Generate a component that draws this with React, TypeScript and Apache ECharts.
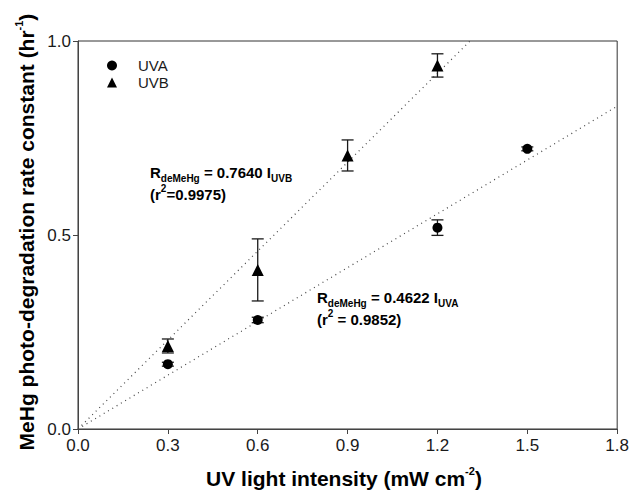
import React, { useEffect, useRef } from "react";
import * as echarts from "echarts";

// ---- data ----
const uvaX = [0.3, 0.6, 1.2, 1.5];
const uvaY = [0.167, 0.281, 0.519, 0.722];
const uvaErr = [0.005, 0.007, 0.02, 0.005];

const uvbX = [0.3, 0.6, 0.9, 1.2];
const uvbY = [0.214, 0.41, 0.705, 0.937];
const uvbErr = [0.018, 0.08, 0.04, 0.03];

const uvaSlope = 0.4622;
const uvbSlope = 0.764;

const xTicks = [0, 0.3, 0.6, 0.9, 1.2, 1.5, 1.8];
const yTicks = [0, 0.5, 1.0];

const FONT = 'Arial, "Liberation Sans", Helvetica, sans-serif';
const X_MAX = 1.8;
const Y_MAX = 1.0;

function errData(xs: number[], ys: number[], es: number[]) {
  return xs.map((x, i) => [x, ys[i] - es[i], ys[i] + es[i]]);
}

function fitLine(slope: number) {
  const xEnd = Math.min(X_MAX, Y_MAX / slope);
  return [
    [0, 0],
    [xEnd, slope * xEnd],
  ];
}

const errRender = (params: any, api: any) => {
  const x = api.value(0);
  const lo = api.coord([x, api.value(1)]);
  const hi = api.coord([x, api.value(2)]);
  const w = 6;
  const style = { stroke: "#1a1a1a", lineWidth: 1.3 };
  return {
    type: "group",
    children: [
      { type: "line", shape: { x1: lo[0], y1: lo[1], x2: hi[0], y2: hi[1] }, style },
      { type: "line", shape: { x1: lo[0] - w, y1: lo[1], x2: lo[0] + w, y2: lo[1] }, style },
      { type: "line", shape: { x1: hi[0] - w, y1: hi[1], x2: hi[0] + w, y2: hi[1] }, style },
    ],
  };
};

const annRich = {
  b: { fontSize: 15, fontWeight: "bold", fontFamily: FONT, color: "#1a1a1a", lineHeight: 22, verticalAlign: "middle" },
  s: { fontSize: 10, fontWeight: "bold", fontFamily: FONT, color: "#1a1a1a", lineHeight: 10, verticalAlign: "bottom" },
  p: { fontSize: 10, fontWeight: "bold", fontFamily: FONT, color: "#1a1a1a", lineHeight: 10, verticalAlign: "top" },
};

const titleRich = {
  t: { fontSize: 21, fontWeight: "bold", fontFamily: FONT, color: "#1a1a1a", lineHeight: 26, verticalAlign: "middle" },
  p: { fontSize: 11, fontWeight: "bold", fontFamily: FONT, color: "#1a1a1a", lineHeight: 12, verticalAlign: "top" },
};

export default function App() {
  const ref = useRef<HTMLDivElement>(null);
  useEffect(() => {
    if (!ref.current) return;
    const chart = echarts.init(ref.current, null, { renderer: "svg" });
    chart.setOption({
      animation: false,
      backgroundColor: "#fff",
      grid: {
        left: 78,
        right: 13,
        top: 41,
        bottom: 63,
        show: true,
        borderColor: "#333",
        borderWidth: 1,
      },
      legend: {
        orient: "vertical",
        left: 107,
        top: 58,
        padding: 0,
        itemWidth: 10,
        itemHeight: 10,
        itemGap: 2,
        data: ["UVA", "UVB"],
        textStyle: { fontFamily: FONT, fontSize: 15, color: "#1a1a1a", padding: [0, 0, 0, 16] },
      },
      xAxis: {
        type: "value",
        min: 0,
        max: X_MAX,
        interval: 0.3,
        axisLine: { show: true, lineStyle: { color: "#444", width: 1 } },
        axisTick: { show: true, inside: false, length: 5, lineStyle: { color: "#444" } },
        splitLine: { show: false },
        axisLabel: {
          fontFamily: FONT,
          fontSize: 17,
          color: "#1a1a1a",
          margin: 8,
          formatter: (v: number) => (xTicks.some((t) => Math.abs(t - v) < 1e-9) ? v.toFixed(1) : ""),
        },
      },
      yAxis: {
        type: "value",
        min: 0,
        max: Y_MAX,
        interval: 0.5,
        axisLine: { show: true, lineStyle: { color: "#444", width: 1 } },
        axisTick: { show: true, inside: false, length: 5, lineStyle: { color: "#444" } },
        splitLine: { show: false },
        axisLabel: {
          fontFamily: FONT,
          fontSize: 17,
          color: "#1a1a1a",
          margin: 7,
          formatter: (v: number) => (yTicks.some((t) => Math.abs(t - v) < 1e-9) ? v.toFixed(1) : ""),
        },
      },
      series: [
        {
          name: "UVA fit",
          type: "line",
          data: fitLine(uvaSlope),
          symbol: "none",
          lineStyle: { color: "#444", width: 1.2, type: [1, 4] },
          z: 1,
          silent: true,
        },
        {
          name: "UVB fit",
          type: "line",
          data: fitLine(uvbSlope),
          symbol: "none",
          lineStyle: { color: "#444", width: 1.2, type: [1, 4] },
          z: 1,
          silent: true,
        },
        {
          name: "UVA err",
          type: "custom",
          renderItem: errRender,
          data: errData(uvaX, uvaY, uvaErr),
          encode: { x: 0, y: [1, 2] },
          z: 2,
        },
        {
          name: "UVB err",
          type: "custom",
          renderItem: errRender,
          data: errData(uvbX, uvbY, uvbErr),
          encode: { x: 0, y: [1, 2] },
          z: 2,
        },
        {
          name: "UVA",
          type: "scatter",
          symbol: "circle",
          symbolSize: 10,
          itemStyle: { color: "#000", opacity: 1 },
          data: uvaX.map((x, i) => [x, uvaY[i]]),
          z: 3,
        },
        {
          name: "UVB",
          type: "scatter",
          symbol: "triangle",
          symbolSize: 12,
          itemStyle: { color: "#000", opacity: 1 },
          data: uvbX.map((x, i) => [x, uvbY[i]]),
          z: 3,
        },
      ],
      graphic: [
        {
          type: "text",
          left: 150,
          top: 165,
          style: {
            text: "{b|R}{s|deMeHg}{b| = 0.7640 I}{s|UVB}\n{b|(r}{p|2}{b|=0.9975)}",
            rich: annRich,
          },
        },
        {
          type: "text",
          left: 317,
          top: 290,
          style: {
            text: "{b|R}{s|deMeHg}{b| = 0.4622 I}{s|UVA}\n{b|(r}{p|2}{b| = 0.9852)}",
            rich: annRich,
          },
        },
        {
          type: "text",
          x: 344,
          y: 478,
          style: {
            text: "{t|UV light intensity (mW cm}{p|-2}{t|)}",
            align: "center",
            verticalAlign: "middle",
            rich: titleRich,
          },
        },
        {
          type: "text",
          x: 26,
          y: 232,
          rotation: Math.PI / 2,
          style: {
            text: "{t|MeHg photo-degradation rate constant (hr}{p|-1}{t|)}",
            align: "center",
            verticalAlign: "middle",
            rich: titleRich,
          },
        },
      ],
    });
    return () => chart.dispose();
  }, []);
  return (
    <div
      ref={ref}
      style={{ position: "fixed", left: 0, top: 0, width: 632, height: 492 }}
    />
  );
}
